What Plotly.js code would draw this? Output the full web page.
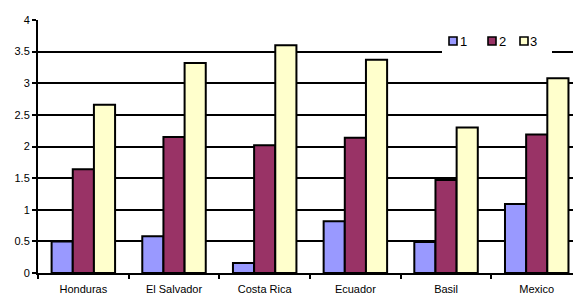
<!DOCTYPE html>
<html>
<head>
<meta charset="utf-8">
<script src="https://cdn.plot.ly/plotly-3.0.1.min.js"></script>
<style>html,body{margin:0;padding:0;background:#fff;}#chart{width:573px;height:297px;}</style>
</head>
<body>
<div id="chart"></div>
<script>
const categories = ["Honduras", "El Salvador", "Costa Rica", "Ecuador", "Basil", "Mexico"];
const seriesNames = ["1", "2", "3"];
const series1 = [0.50, 0.58, 0.16, 0.82, 0.49, 1.09];
const series2 = [1.64, 2.15, 2.02, 2.14, 1.47, 2.19];
const series3 = [2.66, 3.32, 3.60, 3.37, 2.30, 3.08];
const yTicks = [0, 0.5, 1, 1.5, 2, 2.5, 3, 3.5, 4];
const yTickLabels = ["0", "0.5", "1", "1.5", "2", "2.5", "3", "3.5", "4"];
const colors = ["#9999FF", "#993366", "#FFFFCC"];

const W = 573, H = 297;
const M = {l: 38, r: 0, t: 20, b: 24};
const PW = W - M.l - M.r, PH = H - M.t - M.b;
const px = v => (v - M.l) / PW;
const py = v => (H - M.b - v) / PH;

const allSeries = [series1, series2, series3];
const traces = allSeries.map((vals, i) => ({
  type: "bar",
  name: seriesNames[i],
  x: categories,
  y: vals,
  marker: {color: colors[i], line: {color: "#000", width: 2}},
  hoverinfo: "none"
}));

// custom compact legend (layout decoration)
const legendSquareX = [449, 488, 520];
const legendTextX = [458, 497, 528];
const shapes = [{
  type: "rect", xref: "paper", yref: "paper",
  x0: px(442), x1: px(552), y0: py(55), y1: py(32),
  fillcolor: "#fff", line: {width: 0}, layer: "above"
}];
const annotations = [];
seriesNames.forEach((n, i) => {
  shapes.push({
    type: "rect", xref: "paper", yref: "paper",
    x0: px(legendSquareX[i]), x1: px(legendSquareX[i] + 8),
    y0: py(45), y1: py(37),
    fillcolor: colors[i], line: {color: "#000", width: 1.6}, layer: "above"
  });
  annotations.push({
    xref: "paper", yref: "paper",
    x: px(legendTextX[i]), y: py(41.5),
    xanchor: "left", yanchor: "middle",
    text: n, showarrow: false,
    font: {size: 13, color: "#000"}
  });
});

const layout = {
  width: W, height: H,
  margin: {l: M.l, r: M.r, t: M.t, b: M.b, pad: 0},
  paper_bgcolor: "#fff", plot_bgcolor: "#fff",
  font: {family: "Liberation Sans, Arial, sans-serif", size: 11, color: "#000"},
  barmode: "group",
  bargap: 0.3,
  bargroupgap: 0,
  showlegend: false,
  shapes: shapes,
  annotations: annotations,
  xaxis: {
    type: "category",
    autorange: false,
    range: [-0.5, 5.4],
    showline: true, linecolor: "#000", linewidth: 2,
    ticks: "outside", ticklen: 4, tickcolor: "#000", tickwidth: 2,
    tickson: "boundaries",
    ticklabelstandoff: 5,
    showgrid: false, zeroline: false,
    tickfont: {size: 11, color: "#000"},
    fixedrange: true
  },
  yaxis: {
    range: [0, 4],
    autorange: false,
    tickvals: yTicks, ticktext: yTickLabels,
    showline: true, linecolor: "#000", linewidth: 2,
    ticks: "outside", ticklen: 4, tickcolor: "#000", tickwidth: 2,
    showgrid: true, gridcolor: "#000", gridwidth: 2,
    zeroline: false,
    tickfont: {size: 11, color: "#000"},
    fixedrange: true
  }
};

Plotly.newPlot("chart", traces, layout, {displayModeBar: false, staticPlot: true});
</script>
</body>
</html>
